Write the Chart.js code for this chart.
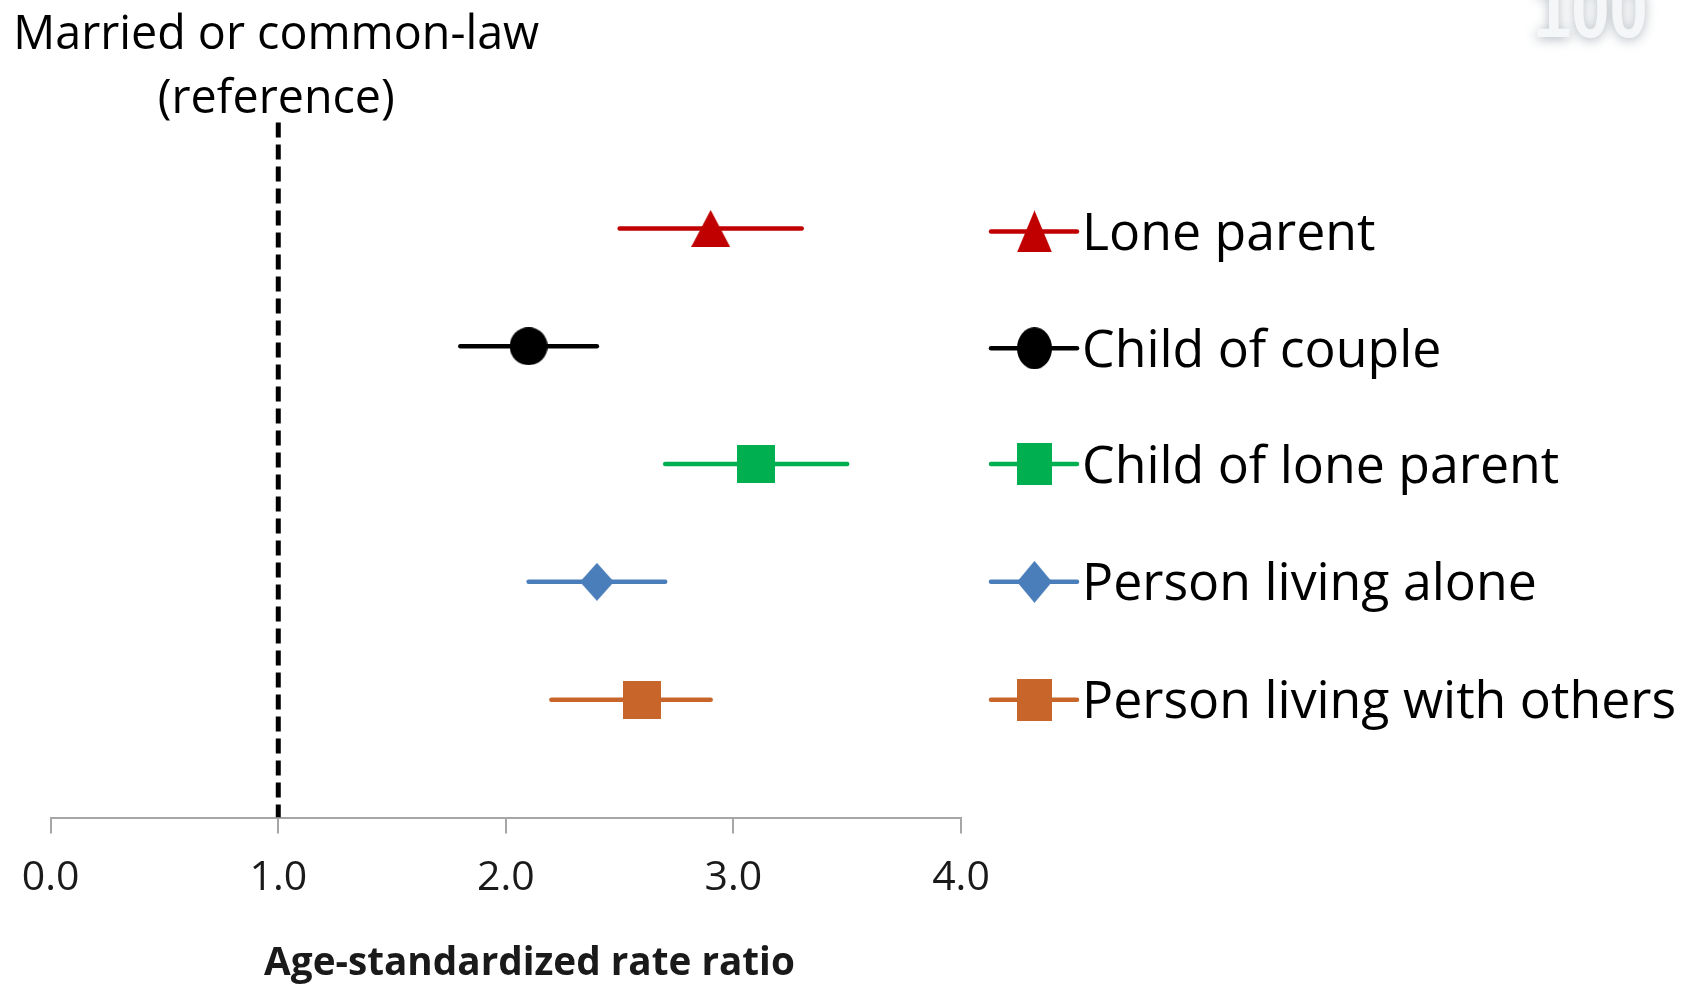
<!DOCTYPE html>
<html>
<head>
<meta charset="utf-8">
<script src="https://cdn.jsdelivr.net/npm/chart.js@4.4.1/dist/chart.umd.min.js"></script>
<style>
  html, body { margin: 0; padding: 0; background: #ffffff; overflow: hidden; }
  #wrap { width: 1691px; height: 994px; position: relative; }
</style>
</head>
<body>
<div id="wrap"><canvas id="chart" width="1691" height="994"></canvas></div>
<script>
// Household living arrangement categories and their rate ratios (with 95% CI)
const categories = ['Lone parent', 'Child of couple', 'Child of lone parent', 'Person living alone', 'Person living with others'];
const estimates = [2.9, 2.1, 3.1, 2.4, 2.6];
const lowerCI = [2.5, 1.8, 2.7, 2.1, 2.2];
const upperCI = [3.3, 2.4, 3.5, 2.7, 2.9];
const xTicks = [0, 1, 2, 3, 4];
const referenceValue = 1.0;
const referenceLabel = ['Married or common-law', '(reference)'];
const axisTitle = 'Age-standardized rate ratio';
const colors = ['#C00000', '#000000', '#00B050', '#4A7EBB', '#C8652A'];
const shapes = ['triangle', 'circle', 'square', 'diamond', 'square'];

const FONT = '"Open Sans", "Noto Sans", sans-serif';

// Marker bitmaps used as point styles
function makeMarker(shape, color, w, h) {
  const c = document.createElement('canvas');
  c.width = Math.round(w); c.height = Math.round(h);
  const g = c.getContext('2d');
  g.fillStyle = color;
  g.beginPath();
  if (shape === 'triangle') {
    g.moveTo(w / 2, 0); g.lineTo(w, h); g.lineTo(0, h); g.closePath();
  } else if (shape === 'circle') {
    g.ellipse(w / 2, h / 2, w / 2, h / 2, 0, 0, Math.PI * 2);
  } else if (shape === 'diamond') {
    g.moveTo(w / 2, 0); g.lineTo(w, h / 2); g.lineTo(w / 2, h); g.lineTo(0, h / 2); g.closePath();
  } else {
    g.rect(0, 0, w, h);
  }
  g.fill();
  return c;
}
const markerSize = { triangle: [39, 37], circle: [38, 38], square: [38, 38], diamond: [34, 38] };
const plotMarkers = shapes.map((s, i) => makeMarker(s, colors[i], markerSize[s][0], markerSize[s][1]));
const legendMarkers = shapes.map((s, i) => makeMarker(s, colors[i], 35, 42));

const datasets = [];
categories.forEach((name, i) => {
  datasets.push({
    type: 'line', label: name + ' CI',
    data: [{ x: lowerCI[i], y: i + 1 }, { x: upperCI[i], y: i + 1 }],
    borderColor: colors[i], borderWidth: 4.5, borderCapStyle: 'round',
    pointRadius: 0, fill: false, order: 2
  });
  datasets.push({
    type: 'scatter', label: name,
    data: [{ x: estimates[i], y: i + 1 }],
    pointStyle: plotMarkers[i], pointRadius: 20, order: 1
  });
});
datasets.push({
  type: 'line', label: 'Reference',
  data: [{ x: referenceValue, y: 0.1 }, { x: referenceValue, y: 6 }],
  borderColor: '#000000', borderWidth: 5, borderDash: [15, 7], borderCapStyle: 'butt',
  pointRadius: 0, fill: false, order: 3
});

function fitFont(ctx, text, targetWidth, weight) {
  ctx.font = weight + ' 100px ' + FONT;
  return 100 * targetWidth / ctx.measureText(text).width;
}

const overlay = {
  id: 'overlay',
  afterDraw(chart) {
    const { ctx, scales: { x, y } } = chart;
    ctx.save();
    // Legend beside each row
    const lsize = 51.8;
    const rowShift = [3, 2, 0, 0, 0];
    categories.forEach((name, i) => {
      const py = y.getPixelForValue(i + 1) + rowShift[i];
      ctx.strokeStyle = colors[i];
      ctx.lineWidth = 4.5;
      ctx.lineCap = 'round';
      ctx.beginPath(); ctx.moveTo(991, py); ctx.lineTo(1077, py); ctx.stroke();
      const m = legendMarkers[i];
      ctx.drawImage(m, 1034.5 - m.width / 2, py - m.height / 2);
      ctx.fillStyle = '#000000';
      ctx.font = lsize + 'px ' + FONT;
      ctx.textBaseline = 'alphabetic';
      ctx.textAlign = 'left';
      ctx.fillText(name, 1082, py + lsize * 0.357);
    });

    // Reference label above the dashed line
    const rx = x.getPixelForValue(referenceValue) - 2;
    const rsize = fitFont(ctx, referenceLabel[0], 526, '');
    ctx.font = rsize + 'px ' + FONT;
    ctx.textAlign = 'center';
    ctx.fillStyle = '#000000';
    ctx.fillText(referenceLabel[0], rx, 49);
    ctx.fillText(referenceLabel[1], rx, 113);

    // Axis title
    const tsize = fitFont(ctx, axisTitle, 531, 'bold');
    ctx.font = 'bold ' + tsize + 'px ' + FONT;
    ctx.fillStyle = '#1a1a1a';
    ctx.fillText(axisTitle, 529.5, 975);

    // Faded badge in the top corner
    ctx.save();
    ctx.translate(1533, 37);
    ctx.scale(0.84, 1);
    ctx.font = 'bold 82px "Liberation Sans", Arial, sans-serif';
    ctx.textAlign = 'left';
    ctx.shadowColor = 'rgba(80,95,110,0.45)';
    ctx.shadowBlur = 12;
    ctx.shadowOffsetY = 2;
    ctx.fillStyle = '#f4f6f7';
    ctx.fillText('100', 0, 0);
    ctx.restore();
    ctx.restore();
  }
};

new Chart(document.getElementById('chart'), {
  type: 'scatter',
  data: { datasets },
  options: {
    responsive: false,
    animation: false,
    layout: { padding: { left: 50.7, right: 730, top: 110.6, bottom: 0 } },
    plugins: { legend: { display: false }, tooltip: { enabled: false } },
    scales: {
      x: {
        type: 'linear', min: 0, max: 4,
        afterBuildTicks: s => { s.ticks = xTicks.map(v => ({ value: v })); },
        afterFit: s => { s.height = 994 - 817.5; },
        ticks: {
          callback: v => Number(v).toFixed(1),
          font: { family: FONT, size: 41 },
          color: '#1a1a1a', padding: 20, maxRotation: 0, autoSkip: false
        },
        grid: { drawOnChartArea: false, drawTicks: true, tickLength: 16, color: '#A6A6A6', lineWidth: 2 },
        border: { display: true, color: '#A6A6A6', width: 2 }
      },
      y: { type: 'linear', min: 0, max: 6, reverse: true, display: false }
    }
  },
  plugins: [overlay]
});
</script>
</body>
</html>
